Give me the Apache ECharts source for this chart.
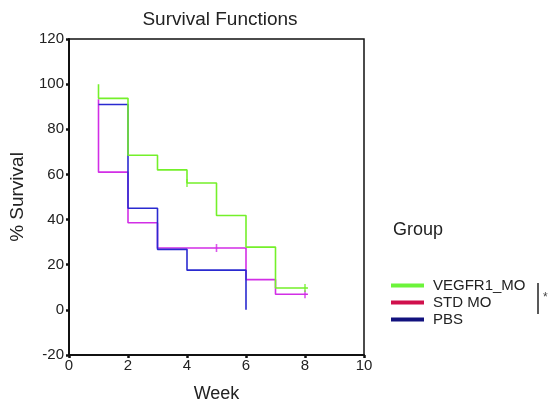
<!DOCTYPE html>
<html>
<head>
    <meta charset="utf-8" />
    <script src="https://cdn.jsdelivr.net/npm/echarts@6/dist/echarts.min.js"></script>
    <style>
        html, body { margin: 0; padding: 0; background: #fff; }
        #main { width: 548px; height: 408px; }
    </style>
</head>
<body>
    <div id="main"></div>
    <script>
        // step points [week, % survival]
        var vegfr1 = [[1, 100], [1, 93.7], [2, 68.5], [3, 62], [4, 56.2], [5, 41.8], [6, 27.8], [7, 9.7], [8.1, 9.7]]
        var stdMo = [[1, 93.3], [1, 61], [2, 38.6], [3, 27.4], [6, 13.4], [7, 6.9], [8.1, 6.9]]
        var pbs = [[1, 91], [2, 45], [3, 26.8], [4, 17.6], [6, 0]]
        // censored marks
        var vegfr1Cens = [[4, 56.2], [8, 9.7]]
        var stdMoCens = [[5, 27.4], [8, 6.9]]

        var names = ['VEGFR1_MO', 'STD MO', 'PBS']
        var lineColors = ['#74f02a', '#d22ee6', '#2a2ad0']
        var legendColors = ['#6cf43a', '#d0104c', '#12127e']

        function kmSeries(name, data, color, z) {
            return {
                name: name,
                type: 'line',
                step: 'end',
                data: data,
                showSymbol: false,
                symbol: 'none',
                z: z,
                lineStyle: { color: color, width: 1.6 },
                itemStyle: { color: color }
            }
        }
        function censSeries(name, data, color, z) {
            return {
                name: name,
                type: 'scatter',
                data: data,
                symbol: 'rect',
                symbolSize: [1.6, 8],
                z: z,
                itemStyle: { color: color }
            }
        }

        var option = {
            animation: false,
            title: [{
                text: 'Survival Functions',
                left: 215,
                top: 5,
                textAlign: 'center',
                textStyle: { fontFamily: 'Liberation Sans', fontSize: 19, fontWeight: 'normal', color: '#222' }
            }, {
                text: 'Group',
                left: 388,
                top: 216,
                textStyle: { fontFamily: 'Liberation Sans', fontSize: 18, fontWeight: 'normal', color: '#222' }
            }],
            legend: {
                orient: 'vertical',
                left: 386,
                top: 273,
                itemWidth: 33,
                itemHeight: 4,
                itemGap: 2,
                icon: 'rect',
                textStyle: { fontFamily: 'Liberation Sans', fontSize: 15, color: '#222', padding: [0, 0, 0, 4] },
                data: names.map(function (n, i) {
                    return { name: n, itemStyle: { color: legendColors[i] } }
                })
            },
            grid: {
                left: 67,
                right: 184,
                top: 39,
                bottom: 52,
                show: true,
                borderColor: '#111',
                borderWidth: 1.5
            },
            xAxis: {
                type: 'value',
                min: 0,
                max: 10,
                interval: 2,
                name: 'Week',
                nameLocation: 'middle',
                nameGap: 30,
                nameTextStyle: { fontFamily: 'Liberation Sans', fontSize: 18, color: '#222' },
                axisLine: { onZero: false, lineStyle: { color: '#111', width: 2 } },
                axisTick: { length: 3, lineStyle: { color: '#111', width: 2.5 } },
                axisLabel: { fontFamily: 'Liberation Sans', fontSize: 15, color: '#222', margin: 3 },
                splitLine: { show: false }
            },
            yAxis: {
                type: 'value',
                min: -20,
                max: 120,
                interval: 20,
                name: '% Survival',
                nameLocation: 'middle',
                nameGap: 42,
                nameTextStyle: { fontFamily: 'Liberation Sans', fontSize: 19, color: '#222' },
                axisLine: { onZero: false, lineStyle: { color: '#111', width: 2 } },
                axisTick: { length: 3, lineStyle: { color: '#111', width: 2.5 } },
                axisLabel: { fontFamily: 'Liberation Sans', fontSize: 15, color: '#222', margin: 5 },
                splitLine: { show: false }
            },
            graphic: [{
                type: 'line',
                shape: { x1: 538, y1: 283, x2: 538, y2: 314 },
                style: { stroke: '#222', lineWidth: 1.5 }
            }, {
                type: 'text',
                left: 543,
                top: 292,
                style: { text: '*', fontSize: 12, fill: '#444' }
            }],
            series: [
                kmSeries('STD MO', stdMo, lineColors[1], 2),
                kmSeries('PBS', pbs, lineColors[2], 3),
                kmSeries('VEGFR1_MO', vegfr1, lineColors[0], 4),
                censSeries('STD MO', stdMoCens, lineColors[1], 5),
                censSeries('VEGFR1_MO', vegfr1Cens, lineColors[0], 5)
            ]
        }

        var chart = echarts.init(document.getElementById('main'))
        chart.setOption(option)
    </script>
</body>
</html>
